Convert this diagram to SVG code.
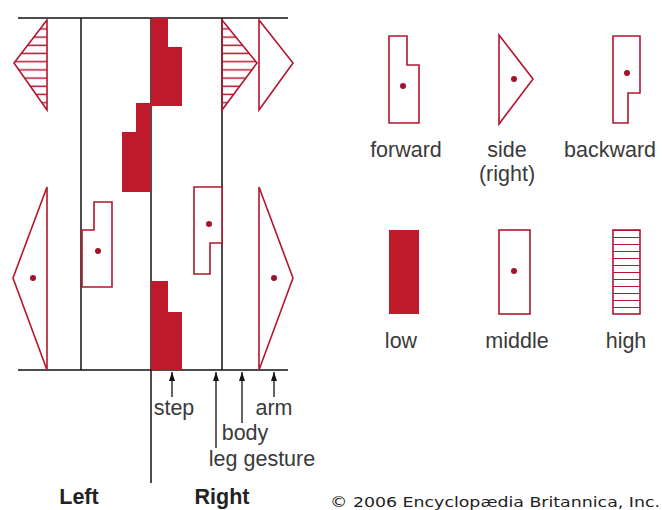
<svg xmlns="http://www.w3.org/2000/svg" width="662" height="510" viewBox="0 0 662 510">
<style>
.ln{stroke:#111;stroke-width:1.5;fill:none}
.sh{stroke:#b3162e;stroke-width:1.6;fill:#fff}
.hh{stroke:#b3162e;stroke-width:1.6}
.fl{fill:#bf1a2c;stroke:none}
.dot{fill:#a5102a}
.lb{font-family:"Liberation Sans",Arial,sans-serif;font-size:21.5px;fill:#3a3a3a;text-anchor:middle}
.bd{font-family:"Liberation Sans",Arial,sans-serif;font-size:21.5px;font-weight:bold;fill:#222;text-anchor:middle}
.ar{stroke:#111;stroke-width:1.3;fill:none;marker-end:url(#ah)}
</style>
<defs>
<pattern id="h8" patternUnits="userSpaceOnUse" x="0" y="8.5" width="10" height="8.2"><line x1="0" y1="4" x2="10" y2="4" stroke="#b3162e" stroke-width="1.5"/></pattern>
<pattern id="h7" patternUnits="userSpaceOnUse" x="0" y="230" width="10" height="7"><line x1="0" y1="0" x2="10" y2="0" stroke="#b3162e" stroke-width="2"/></pattern>
<marker id="ah" viewBox="0 0 10 10" refX="10" refY="5" markerWidth="9" markerHeight="6" markerUnits="userSpaceOnUse" orient="auto" preserveAspectRatio="none"><path d="M0,0 L10,5 L0,10 z" fill="#111"/></marker>
</defs>
<g id="staff">
<line class="ln" x1="18" y1="18" x2="288" y2="18"/>
<line class="ln" x1="18" y1="370" x2="288" y2="370"/>
<line class="ln" x1="81" y1="18" x2="81" y2="370"/>
<line class="ln" x1="151" y1="18" x2="151" y2="483"/>
<line class="ln" x1="222" y1="18" x2="222" y2="370"/>
</g>
<g id="left-arm-high"><polygon class="hh" fill="url(#h8)" points="47,20 14,63 47,110"/></g>
<g id="left-arm-middle"><polygon class="sh" points="47,187 13,278 47,370"/><circle class="dot" cx="33" cy="278" r="3"/></g>
<g id="left-leg-forward"><polygon class="sh" points="94,202 112,202 112,287 82,287 82,230 94,230"/><circle class="dot" cx="98" cy="251" r="3"/></g>
<g id="left-step-low"><polygon class="fl" points="136,103 151,103 151,192 122,192 122,132 136,132"/></g>
<g id="right-step-low-1"><polygon class="fl" points="151,18 168,18 168,47 182,47 182,106 151,106"/></g>
<g id="right-step-low-2"><polygon class="fl" points="151,281 168,281 168,312 182,312 182,370 151,370"/></g>
<g id="right-leg-backward"><polygon class="sh" points="194,187 222,187 222,243 210,243 210,274 194,274"/><circle class="dot" cx="209" cy="224" r="3"/></g>
<g id="right-body-high"><polygon class="hh" fill="url(#h8)" points="222,20 257,63 222,110"/></g>
<g id="right-arm-side"><polygon class="sh" points="259,20 293,63 259,110"/></g>
<g id="right-arm-middle"><polygon class="sh" points="259,187 293,278 259,370"/><circle class="dot" cx="274" cy="278" r="3"/></g>
<g id="connectors">
<line class="ar" x1="172" y1="397" x2="172" y2="372"/>
<line class="ar" x1="216" y1="448" x2="216" y2="372"/>
<line class="ar" x1="242" y1="423" x2="242" y2="372"/>
<line class="ar" x1="274" y1="397" x2="274" y2="372"/>
</g>
<g id="labels">
<text class="lb" x="174" y="415">step</text>
<text class="lb" x="274" y="415">arm</text>
<text class="lb" x="245" y="440">body</text>
<text class="lb" x="262" y="466">leg gesture</text>
<text class="bd" x="79" y="504">Left</text>
<text class="bd" x="222" y="504">Right</text>
</g>
<g id="legend-forward"><polygon class="sh" points="389,36 407,36 407,65 419,65 419,123 389,123"/><circle class="dot" cx="403" cy="86" r="3"/><text class="lb" x="406" y="157">forward</text></g>
<g id="legend-side"><polygon class="sh" points="499,35 533,79 499,124"/><circle class="dot" cx="514" cy="79" r="3"/><text class="lb" x="507" y="157">side</text><text class="lb" x="507" y="181">(right)</text></g>
<g id="legend-backward"><polygon class="sh" points="613,36 640,36 640,93 628,93 628,123 613,123"/><circle class="dot" cx="627" cy="73" r="3"/><text class="lb" x="610" y="157">backward</text></g>
<g id="legend-low"><rect class="fl" x="389" y="230" width="30" height="84"/><text class="lb" x="401" y="348">low</text></g>
<g id="legend-middle"><rect class="sh" x="499" y="230" width="31" height="84"/><circle class="dot" cx="514" cy="271" r="3"/><text class="lb" x="517" y="348">middle</text></g>
<g id="legend-high"><rect class="hh" fill="url(#h7)" x="613" y="230" width="27" height="84"/><text class="lb" x="626" y="348">high</text></g>
<text x="330" y="507" font-family="'DejaVu Sans',Verdana,sans-serif" font-size="14.5" fill="#222" textLength="330" lengthAdjust="spacingAndGlyphs">© 2006 Encyclopædia Britannica, Inc.</text>
</svg>
